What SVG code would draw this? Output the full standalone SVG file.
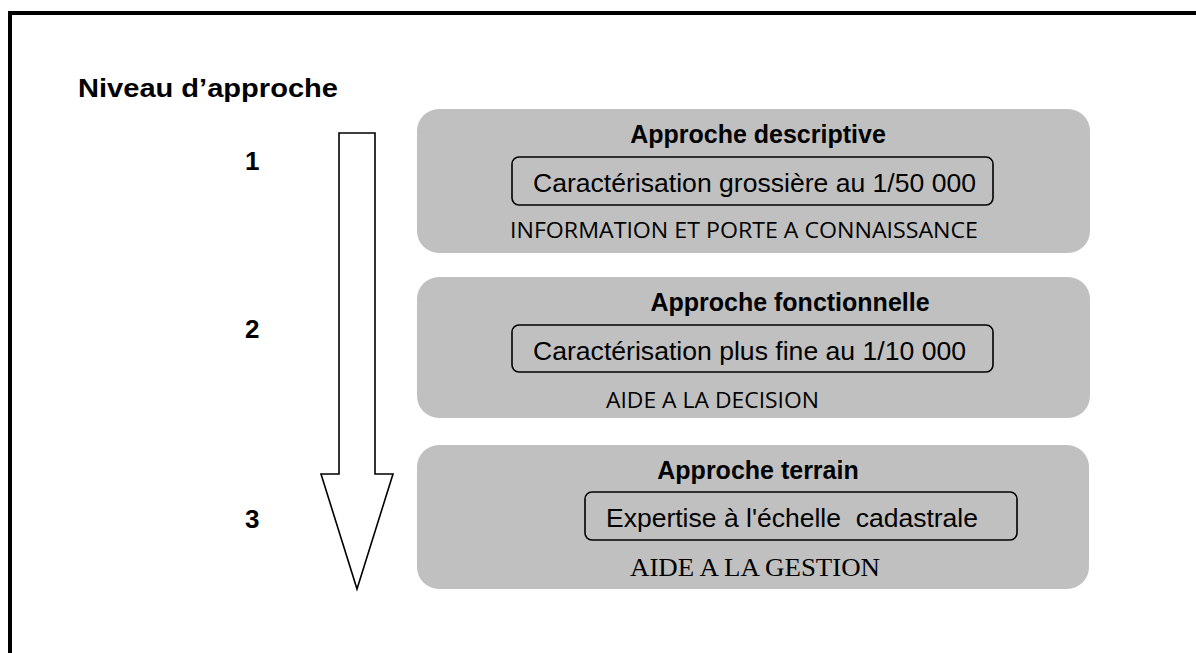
<svg xmlns="http://www.w3.org/2000/svg" width="1196" height="653" viewBox="0 0 1196 653">
<style>
.panel{fill:#c0c0c0;stroke:none}
.inner{fill:none;stroke:#000;stroke-width:1.6}
.title{font-family:"Liberation Sans",Arial,sans-serif;font-weight:bold;font-size:25px;fill:#000;text-anchor:middle}
.body{font-family:"Liberation Sans",Arial,sans-serif;font-size:26.5px;fill:#000}
.caps{font-family:"Open Sans","Noto Sans",sans-serif;font-size:21px;fill:#000}
.serif{font-family:"Liberation Serif","Times New Roman",serif;font-size:26px;fill:#000}
.num{font-family:"Liberation Sans",Arial,sans-serif;font-weight:bold;font-size:26px;fill:#000}
</style>
<rect width="1196" height="653" fill="#fff"/>
<path d="M10,660 V13 H1200" fill="none" stroke="#000" stroke-width="4"/>
<text class="num" x="78" y="97" textLength="260" lengthAdjust="spacingAndGlyphs">Niveau d’approche</text>
<text class="num" x="245" y="170">1</text>
<text class="num" x="245" y="338">2</text>
<text class="num" x="245" y="528">3</text>
<g id="connectors">
<polygon points="339,133 375,133 375,474 393,474 357,589 321,474 339,474" fill="#fff" stroke="#000" stroke-width="1.6" stroke-linejoin="miter"/>
</g>
<g id="node1">
<rect class="panel" x="417" y="109" width="673" height="144" rx="22"/>
<text class="title" x="758" y="143">Approche descriptive</text>
<rect class="inner" x="512" y="157" width="481" height="48" rx="7"/>
<text class="body" x="533" y="192" textLength="443" lengthAdjust="spacingAndGlyphs">Caractérisation grossière au 1/50 000</text>
<text class="caps" x="510" y="238" textLength="468" lengthAdjust="spacingAndGlyphs">INFORMATION ET PORTE A CONNAISSANCE</text>
</g>
<g id="node2">
<rect class="panel" x="417" y="277" width="673" height="141" rx="22"/>
<text class="title" x="790" y="311">Approche fonctionnelle</text>
<rect class="inner" x="512" y="325" width="481" height="47" rx="7"/>
<text class="body" x="533" y="360" textLength="433" lengthAdjust="spacingAndGlyphs">Caractérisation plus fine au 1/10 000</text>
<text class="caps" x="606" y="408" textLength="213" lengthAdjust="spacingAndGlyphs">AIDE A LA DECISION</text>
</g>
<g id="node3">
<rect class="panel" x="417" y="445" width="672" height="144" rx="22"/>
<text class="title" x="758" y="479">Approche terrain</text>
<rect class="inner" x="585" y="492" width="432" height="48" rx="7"/>
<text class="body" x="606" y="527" textLength="372" lengthAdjust="spacingAndGlyphs" xml:space="preserve">Expertise à l'échelle  cadastrale</text>
<text class="serif" x="630" y="576" textLength="250" lengthAdjust="spacingAndGlyphs">AIDE A LA GESTION</text>
</g>
</svg>
